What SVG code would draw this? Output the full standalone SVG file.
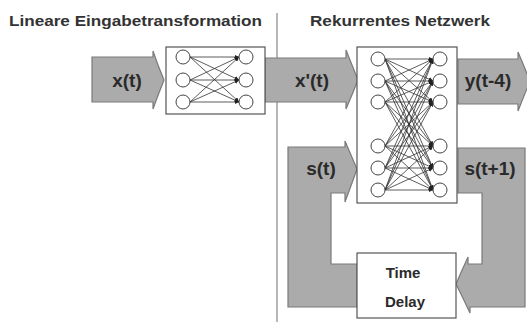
<svg xmlns="http://www.w3.org/2000/svg" width="527" height="324" viewBox="0 0 527 324">
<defs>
<marker id="ah" viewBox="0 0 10 10" refX="10" refY="5" markerWidth="4.5" markerHeight="4.5" orient="auto" markerUnits="userSpaceOnUse"><path d="M0,0 L10,5 L0,10 Z" fill="#222"/></marker>
</defs>
<style>
.title{font-family:"Liberation Sans",Arial,sans-serif;font-weight:bold;font-size:14px;fill:#333}
.lbl{font-family:"Liberation Sans",Arial,sans-serif;font-weight:bold;font-size:19px;fill:#2a2a2a}
.td{font-family:"Liberation Sans",Arial,sans-serif;font-weight:bold;font-size:15px;fill:#2a2a2a}
.flow{fill:#ababab;stroke:#7a7a7a;stroke-width:1.2}
.box{fill:#ffffff;stroke:#555;stroke-width:1.2}
.n{fill:#fff;stroke:#444;stroke-width:1}
.w{stroke:#333;stroke-width:0.8;marker-end:url(#ah)}
</style>
<rect width="527" height="324" fill="#ffffff"/>
<text class="title" x="9" y="26" textLength="253" lengthAdjust="spacingAndGlyphs">Lineare Eingabetransformation</text>
<text class="title" x="310" y="26" textLength="180" lengthAdjust="spacingAndGlyphs">Rekurrentes Netzwerk</text>
<line x1="277" y1="13" x2="277" y2="322" stroke="#888" stroke-width="1.2"/>

<g id="connectors">
<path id="arrow-x" class="flow" d="M92,57 H153 V51 Q158,66 164,80 Q158,95 153,109 V102 H92 Z"/>
<path id="arrow-xp" class="flow" d="M265,58 H346 V50 Q352,65 358,80 Q352,95 346,109 V102 H265 Z"/>
<path id="arrow-y" class="flow" d="M458,59 H518 V52 Q524,66 530,81 Q524,96 518,111 V104 H458 Z"/>
<path id="arrow-s" class="flow" d="M288,147 H345 V141 Q351,155 357,169 Q351,186 345,202 V193 H331 V264 H357 V307 H288 Z"/>
<path id="arrow-s1" class="flow" d="M458,148 H525 V307 H470 V313 Q463,298 456,284 Q462,270 468,257 V264 H482 V193 H458 Z"/>
</g>
<text class="lbl" x="127" y="87" text-anchor="middle">x(t)</text>
<text class="lbl" x="312" y="87" text-anchor="middle">x'(t)</text>
<text class="lbl" x="488" y="87" text-anchor="middle">y(t-4)</text>
<text class="lbl" x="321" y="175" text-anchor="middle">s(t)</text>
<text class="lbl" x="490" y="175" text-anchor="middle">s(t+1)</text>

<g id="linear-net">
<rect class="box" x="166" y="47" width="99" height="67"/>
<g>
<line class="w" x1="190" y1="57" x2="239" y2="57"/>
<line class="w" x1="190" y1="57" x2="239" y2="80"/>
<line class="w" x1="190" y1="57" x2="239" y2="102"/>
<line class="w" x1="190" y1="80" x2="239" y2="57"/>
<line class="w" x1="190" y1="80" x2="239" y2="80"/>
<line class="w" x1="190" y1="80" x2="239" y2="102"/>
<line class="w" x1="190" y1="102" x2="239" y2="57"/>
<line class="w" x1="190" y1="102" x2="239" y2="80"/>
<line class="w" x1="190" y1="102" x2="239" y2="102"/>
</g>
<circle class="n" cx="183" cy="57" r="7"/><circle class="n" cx="183" cy="80" r="7"/><circle class="n" cx="183" cy="102" r="7"/>
<circle class="n" cx="246" cy="57" r="7"/><circle class="n" cx="246" cy="80" r="7"/><circle class="n" cx="246" cy="102" r="7"/>
</g>

<g id="recurrent-net">
<rect class="box" x="357" y="47" width="100" height="156"/>
<g id="rw">
<line class="w" x1="385" y1="59" x2="433" y2="59"/><line class="w" x1="385" y1="59" x2="433" y2="81"/><line class="w" x1="385" y1="59" x2="433" y2="102"/><line class="w" x1="385" y1="59" x2="433" y2="146"/><line class="w" x1="385" y1="59" x2="433" y2="168"/><line class="w" x1="385" y1="59" x2="433" y2="190"/>
<line class="w" x1="385" y1="81" x2="433" y2="59"/><line class="w" x1="385" y1="81" x2="433" y2="81"/><line class="w" x1="385" y1="81" x2="433" y2="102"/><line class="w" x1="385" y1="81" x2="433" y2="146"/><line class="w" x1="385" y1="81" x2="433" y2="168"/><line class="w" x1="385" y1="81" x2="433" y2="190"/>
<line class="w" x1="385" y1="102" x2="433" y2="59"/><line class="w" x1="385" y1="102" x2="433" y2="81"/><line class="w" x1="385" y1="102" x2="433" y2="102"/><line class="w" x1="385" y1="102" x2="433" y2="146"/><line class="w" x1="385" y1="102" x2="433" y2="168"/><line class="w" x1="385" y1="102" x2="433" y2="190"/>
<line class="w" x1="385" y1="146" x2="433" y2="59"/><line class="w" x1="385" y1="146" x2="433" y2="81"/><line class="w" x1="385" y1="146" x2="433" y2="102"/><line class="w" x1="385" y1="146" x2="433" y2="146"/><line class="w" x1="385" y1="146" x2="433" y2="168"/><line class="w" x1="385" y1="146" x2="433" y2="190"/>
<line class="w" x1="385" y1="168" x2="433" y2="59"/><line class="w" x1="385" y1="168" x2="433" y2="81"/><line class="w" x1="385" y1="168" x2="433" y2="102"/><line class="w" x1="385" y1="168" x2="433" y2="146"/><line class="w" x1="385" y1="168" x2="433" y2="168"/><line class="w" x1="385" y1="168" x2="433" y2="190"/>
<line class="w" x1="385" y1="190" x2="433" y2="59"/><line class="w" x1="385" y1="190" x2="433" y2="81"/><line class="w" x1="385" y1="190" x2="433" y2="102"/><line class="w" x1="385" y1="190" x2="433" y2="146"/><line class="w" x1="385" y1="190" x2="433" y2="168"/><line class="w" x1="385" y1="190" x2="433" y2="190"/>
</g>
<circle class="n" cx="378" cy="59" r="7"/><circle class="n" cx="378" cy="81" r="7"/><circle class="n" cx="378" cy="102" r="7"/>
<circle class="n" cx="378" cy="146" r="7"/><circle class="n" cx="378" cy="168" r="7"/><circle class="n" cx="378" cy="190" r="7"/>
<circle class="n" cx="440" cy="59" r="7"/><circle class="n" cx="440" cy="81" r="7"/><circle class="n" cx="440" cy="102" r="7"/>
<circle class="n" cx="440" cy="146" r="7"/><circle class="n" cx="440" cy="168" r="7"/><circle class="n" cx="440" cy="190" r="7"/>
</g>

<g id="time-delay">
<rect class="box" x="357" y="253" width="99" height="65"/>
<text class="td" x="403" y="278" text-anchor="middle">Time</text>
<text class="td" x="405" y="307" text-anchor="middle">Delay</text>
</g>
</svg>
